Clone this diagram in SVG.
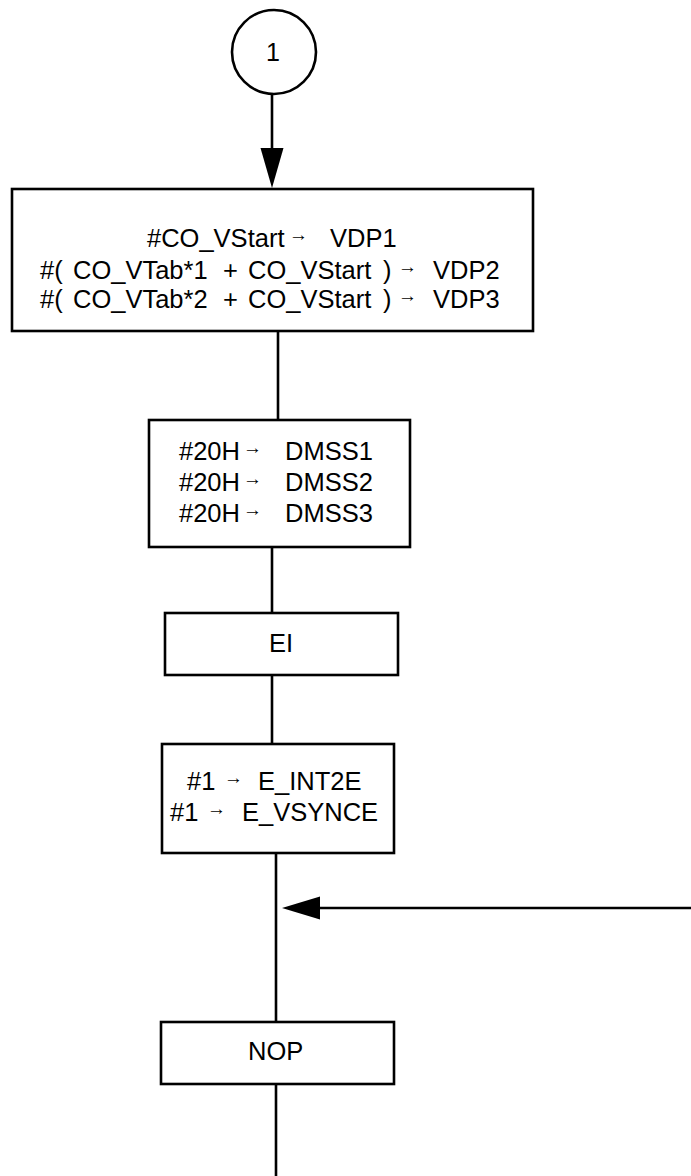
<svg xmlns="http://www.w3.org/2000/svg" width="691" height="1176" viewBox="0 0 691 1176">
<style>
.box{fill:#fff;stroke:#000;stroke-width:2.6}
.ln{fill:none;stroke:#000;stroke-width:2.6}
.ah{fill:#000;stroke:none}
text{font-family:"Liberation Sans",Arial,sans-serif;font-size:25.5px;fill:#000}
.ar{font-size:19px}
</style>
<rect width="691" height="1176" fill="#fff"/>
<g id="connectors">
<line class="ln" x1="272" y1="94" x2="272" y2="152"/>
<polygon class="ah" points="260.5,148 283.5,148 272,188"/>
<line class="ln" x1="278" y1="331" x2="278" y2="420"/>
<line class="ln" x1="272" y1="547" x2="272" y2="613"/>
<line class="ln" x1="272" y1="675" x2="272" y2="744"/>
<line class="ln" x1="276" y1="853" x2="276" y2="1022"/>
<line class="ln" x1="276" y1="1084" x2="276" y2="1176"/>
<line class="ln" x1="691" y1="908" x2="316" y2="908"/>
<polygon class="ah" points="282,908 320,896.5 320,919.5"/>
</g>
<g id="start">
<circle cx="274" cy="52" r="42" class="box"/>
<text x="273" y="61" text-anchor="middle" style="font-size:25px">1</text>
</g>
<g id="n1">
<rect class="box" x="12" y="189" width="521" height="142"/>
<text><tspan x="147" y="247">#CO_VStart</tspan><tspan class="ar" x="289" y="241">→</tspan><tspan x="330" y="247">VDP1</tspan></text>
<text><tspan x="40" y="279">#(</tspan><tspan x="73" y="279">CO_VTab*1</tspan><tspan x="223" y="279">+</tspan><tspan x="248" y="279">CO_VStart</tspan><tspan x="383" y="279">)</tspan><tspan class="ar" x="398" y="273">→</tspan><tspan x="433" y="279">VDP2</tspan></text>
<text><tspan x="40" y="308">#(</tspan><tspan x="73" y="308">CO_VTab*2</tspan><tspan x="223" y="308">+</tspan><tspan x="248" y="308">CO_VStart</tspan><tspan x="383" y="308">)</tspan><tspan class="ar" x="398" y="302">→</tspan><tspan x="433" y="308">VDP3</tspan></text>
</g>
<g id="n2">
<rect class="box" x="149" y="420" width="261" height="127"/>
<text><tspan x="179" y="460">#20H</tspan><tspan class="ar" x="243" y="454">→</tspan><tspan x="285" y="460">DMSS1</tspan></text>
<text><tspan x="179" y="491">#20H</tspan><tspan class="ar" x="243" y="485">→</tspan><tspan x="285" y="491">DMSS2</tspan></text>
<text><tspan x="179" y="522">#20H</tspan><tspan class="ar" x="243" y="516">→</tspan><tspan x="285" y="522">DMSS3</tspan></text>
</g>
<g id="n3">
<rect class="box" x="165" y="613" width="233" height="62"/>
<text x="269" y="652">EI</text>
</g>
<g id="n4">
<rect class="box" x="162" y="744" width="232" height="109"/>
<text><tspan x="187" y="790">#1</tspan><tspan class="ar" x="224" y="784">→</tspan><tspan x="258" y="790">E_INT2E</tspan></text>
<text><tspan x="170" y="821">#1</tspan><tspan class="ar" x="207" y="815">→</tspan><tspan x="242" y="821">E_VSYNCE</tspan></text>
</g>
<g id="n5">
<rect class="box" x="161" y="1022" width="233" height="62"/>
<text x="248" y="1060">NOP</text>
</g>
</svg>
